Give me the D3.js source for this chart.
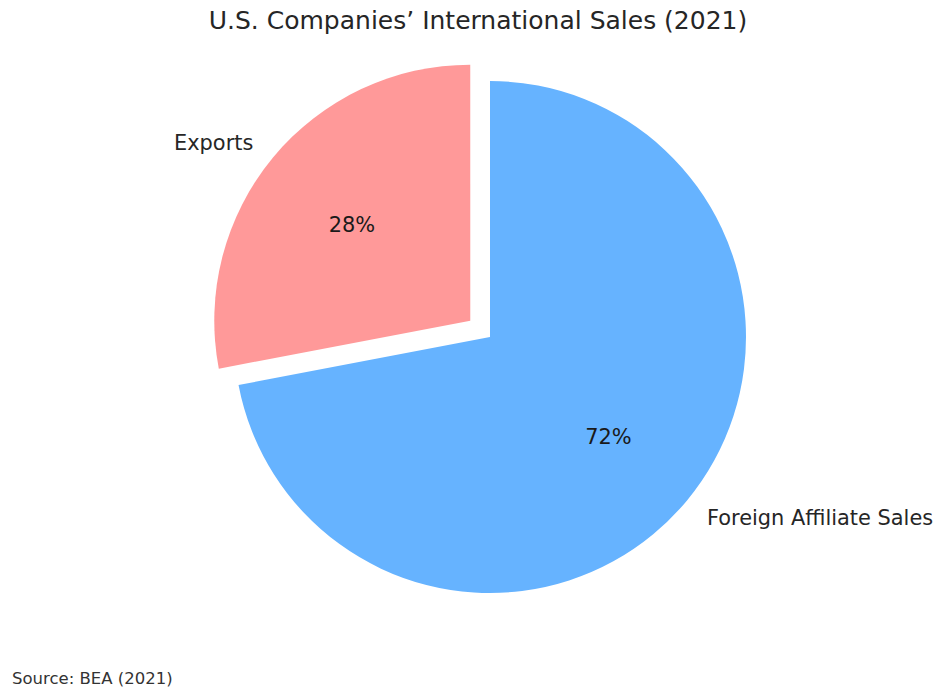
<!DOCTYPE html>
<html><head><meta charset="utf-8">
<script src="https://cdn.jsdelivr.net/npm/d3@7"></script>
<style>body{margin:0;background:#fff;}svg{display:block;font-family:"DejaVu Sans",sans-serif;}</style>
</head><body>
<svg id="chart" width="936" height="700"></svg>
<script>
const categories = ["Exports", "Foreign Affiliate Sales"];
const values = [28, 72];
const colors = ["#ff9999", "#66b3ff"];
const explode = [0.1, 0];
const title = "U.S. Companies’ International Sales (2021)";
const source = "Source: BEA (2021)";

const svg = d3.select("#chart");
const cx = 490, cy = 337, r = 256;

// matplotlib-style: startangle 90, counterclockwise. d3 angle: 0 = top, clockwise.
const pie = d3.pie().sort(null).value(d => d.v)
  .startAngle(0).endAngle(-2 * Math.PI);
const data = pie(categories.map((c, i) => ({c, v: values[i], i})));
const arc = d3.arc().innerRadius(0).outerRadius(r);

const g = svg.append("g").attr("transform", `translate(${cx},${cy})`);
data.forEach(d => {
  const mid = (d.startAngle + d.endAngle) / 2;
  const ex = explode[d.data.i] * r;
  const ox = Math.sin(mid) * ex, oy = -Math.cos(mid) * ex;
  const wg = g.append("g").attr("transform", `translate(${ox},${oy})`);
  wg.append("path")
    .attr("d", arc({startAngle: Math.min(d.startAngle, d.endAngle), endAngle: Math.max(d.startAngle, d.endAngle)}))
    .attr("fill", colors[d.data.i]);
  const lx = Math.sin(mid) * r * 1.1, ly = -Math.cos(mid) * r * 1.1;
  wg.append("text")
    .attr("x", lx).attr("y", ly + 1.5)
    .attr("text-anchor", lx < 0 ? "end" : "start")
    .attr("dominant-baseline", "central")
    .attr("font-size", 20.9).attr("fill", "#262626")
    .text(d.data.c);
  const px = Math.sin(mid) * r * 0.6, py = -Math.cos(mid) * r * 0.6;
  wg.append("text")
    .attr("x", px).attr("y", py + 2)
    .attr("text-anchor", "middle")
    .attr("dominant-baseline", "central")
    .attr("font-size", 20.9).attr("fill", "#1a1a1a")
    .text(d3.format(".0f")(d.data.v) + "%");
});

svg.append("text").attr("x", 478).attr("y", 29)
  .attr("text-anchor", "middle").attr("font-size", 25).attr("fill", "#262626")
  .text(title);
svg.append("text").attr("x", 12).attr("y", 684)
  .attr("font-size", 16.5).attr("fill", "#333")
  .text(source);
</script>
</body></html>
